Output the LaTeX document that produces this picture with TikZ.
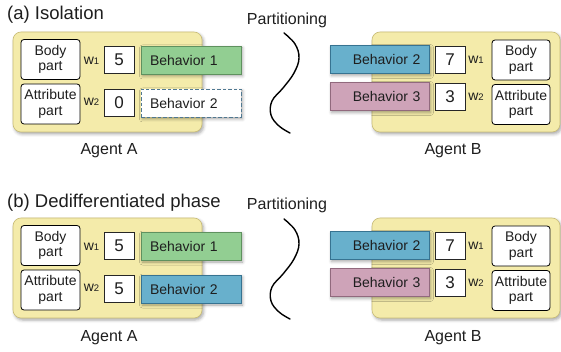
\documentclass[tikz,border=0pt]{standalone}
\usepackage{fontspec}
\setmainfont{Liberation Sans}
\usetikzlibrary{shadows.blur}

\definecolor{agentfill}{RGB}{244,235,170}
\definecolor{agentline}{RGB}{200,188,120}
\definecolor{behgreen}{RGB}{146,206,146}
\definecolor{behgreenline}{RGB}{95,145,95}
\definecolor{behblue}{RGB}{104,176,204}
\definecolor{behblueline}{RGB}{55,115,145}
\definecolor{behpink}{RGB}{206,163,184}
\definecolor{behpinkline}{RGB}{145,105,125}
\definecolor{inkgray}{RGB}{30,30,30}
\definecolor{dashline}{RGB}{80,120,145}

% weight label: w with a small lowered index
\newcommand\wlabel[1]{w\raisebox{-0.6pt}{\fontsize{9.5}{9.5}\selectfont #1}}

\tikzset{
  softshadow/.style={blur shadow={shadow xshift=1.5pt, shadow yshift=-2pt,
      shadow blur radius=3pt, shadow opacity=35}},
  agent/.style={draw=agentline, line width=0.6pt, fill=agentfill,
      rounded corners=8pt, minimum width=189pt, minimum height=100pt,
      softshadow},
  part/.style={draw=black, line width=0.8pt, fill=white, rounded corners=3pt,
      minimum width=59pt, minimum height=40pt, align=center, inner sep=1pt,
      font=\fontsize{14}{15.5}\selectfont, text=inkgray},
  num/.style={draw=black!85, line width=0.7pt, fill=white, minimum width=30pt,
      minimum height=27pt, inner sep=0pt, font=\fontsize{17}{17}\selectfont,
      text=inkgray},
  beh/.style={line width=0.8pt, minimum width=100pt, minimum height=28pt,
      inner sep=0pt, text width=82pt, font=\fontsize{14}{14}\selectfont,
      text=inkgray, softshadow},
  behleft/.style={beh, align=left},
  behright/.style={beh, align=right},
  green/.style={fill=behgreen, draw=behgreenline},
  blue/.style={fill=behblue, draw=behblueline},
  pink/.style={fill=behpink, draw=behpinkline},
  unused/.style={fill=white, draw=dashline, line width=0.9pt, dash pattern=on 3.5pt off 2pt},
  wlab/.style={inner sep=0pt, font=\fontsize{14}{14}\selectfont, text=inkgray},
  agentname/.style={font=\fontsize{16}{16}\selectfont, text=inkgray},
  title/.style={anchor=west, inner sep=0pt, font=\fontsize{18.5}{18.5}\selectfont, text=inkgray},
  partlabel/.style={font=\fontsize{16}{16}\selectfont, text=inkgray},
  divider/.style={line width=1.4pt, line cap=round}
}

\begin{document}
\begin{tikzpicture}[x=1pt, y=-1pt]
\useasboundingbox (0,0) rectangle (561,352);

% ---------------- (a) Isolation ----------------
\node[title] (ta) at (7,15) {(a) Isolation};
\node[partlabel] (pa) at (287,20) {Partitioning};
\draw[divider] plot[smooth, tension=0.65] coordinates
  {(284,33) (295,44) (299,58) (294,73) (283,88) (272,101) (271,115) (279,126) (290,133)};

% agent A
\node[agent] (agA) at (107.5,82) {};
\node[part] (bodyA) at (50.5,59.5) {Body\\part};
\node[part] (attrA) at (50.5,104) {Attribute\\part};
\node[wlab] (w1A) at (91.5,61) {\wlabel{1}};
\node[wlab] (w2A) at (91.5,102) {\wlabel{2}};
\node[num] (n1A) at (119,59.5) {5};
\node[num] (n2A) at (119,103) {0};
\node[behleft, green] (b1A) at (191,60) {Behavior 1};
\node[behleft, unused] (b2A) at (191,103) {Behavior 2};
\node[agentname] (labA) at (109,151) {Agent A};

% agent B
\node[agent, minimum width=188pt] (agB) at (466,82) {};
\node[behright, blue, minimum width=99pt] (b2B) at (379.5,59.5) {Behavior 2};
\node[behright, pink, minimum width=99pt] (b3B) at (379.5,96.5) {Behavior 3};
\node[num] (n1B) at (450,59.5) {7};
\node[num] (n2B) at (450,96.5) {3};
\node[wlab] (w1B) at (476,60) {\wlabel{1}};
\node[wlab] (w2B) at (476,97) {\wlabel{2}};
\node[part, minimum width=58pt] (bodyB) at (521,60) {Body\\part};
\node[part, minimum width=58pt] (attrB) at (521,104.5) {Attribute\\part};
\node[agentname] (labB) at (453,151) {Agent B};

% ---------------- (b) Dedifferentiated phase ----------------
\begin{scope}[yshift=-186pt]
\node[title] (tb) at (7,17) {(b) Dedifferentiated phase};
\node[partlabel] (pb) at (287,19) {Partitioning};
\draw[divider] plot[smooth, tension=0.65] coordinates
  {(284,33) (295,44) (299,58) (294,73) (283,88) (272,101) (271,115) (279,126) (290,133)};

% agent A
\node[agent] (agA2) at (107.5,82) {};
\node[part] (bodyA2) at (50.5,59.5) {Body\\part};
\node[part] (attrA2) at (50.5,104) {Attribute\\part};
\node[wlab] (w1A2) at (91.5,61) {\wlabel{1}};
\node[wlab] (w2A2) at (91.5,102) {\wlabel{2}};
\node[num] (n1A2) at (119,59.5) {5};
\node[num] (n2A2) at (119,103) {5};
\node[behleft, green] (b1A2) at (191,60) {Behavior 1};
\node[behleft, blue] (b2A2) at (191,103) {Behavior 2};
\node[agentname] (labA2) at (109,152) {Agent A};

% agent B
\node[agent, minimum width=188pt] (agB2) at (466,82) {};
\node[behright, blue, minimum width=99pt] (b2B2) at (379.5,59.5) {Behavior 2};
\node[behright, pink, minimum width=99pt] (b3B2) at (379.5,96.5) {Behavior 3};
\node[num] (n1B2) at (450,59.5) {7};
\node[num] (n2B2) at (450,96.5) {3};
\node[wlab] (w1B2) at (476,60) {\wlabel{1}};
\node[wlab] (w2B2) at (476,97) {\wlabel{2}};
\node[part, minimum width=58pt] (bodyB2) at (521,60) {Body\\part};
\node[part, minimum width=58pt] (attrB2) at (521,104.5) {Attribute\\part};
\node[agentname] (labB2) at (453,152) {Agent B};
\end{scope}
\end{tikzpicture}
\end{document}
